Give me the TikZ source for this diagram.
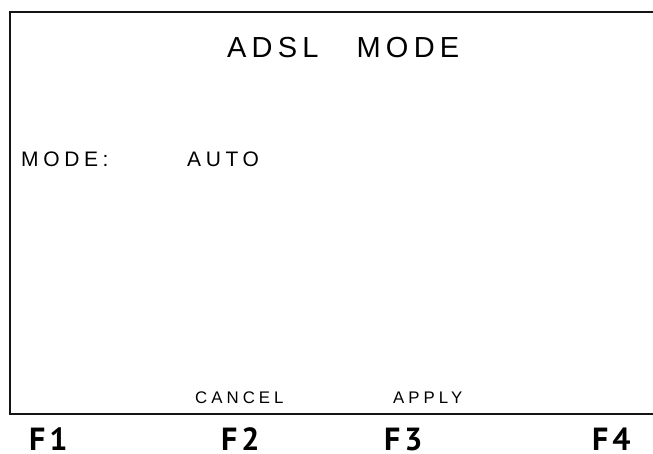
\documentclass[tikz,border=0pt]{standalone}
\usepackage{fontspec}
\setmainfont{Liberation Sans}
\newfontfamily\fkeyfont{PT Sans Bold}[LetterSpace=12]
\newfontfamily\lstitle{Liberation Sans}[LetterSpace=18]
\newfontfamily\lsfont{Liberation Sans}[LetterSpace=22]
\newfontfamily\lsfontb{Liberation Sans}[LetterSpace=24]
\begin{document}
\begin{tikzpicture}[x=1pt,y=-1pt,
  frame/.style={line width=2pt,draw=black!92},
  titletext/.style={anchor=base west,inner sep=0pt,font=\fontsize{29}{29}\lstitle},
  fieldtext/.style={anchor=base west,inner sep=0pt,font=\fontsize{21}{21}\lsfont},
  softkey/.style={anchor=base west,inner sep=0pt,font=\fontsize{16.8}{16.8}\lsfontb},
  fkey/.style={anchor=base west,inner sep=0pt,font=\fontsize{32}{32}\fkeyfont}]
\useasboundingbox (0,0) rectangle (653,454);
\coordinate (tr) at (653,12);
\coordinate (tl) at (10,12);
\coordinate (bl) at (10,414);
\coordinate (br) at (653,414);
\draw[frame] (tr) -- (tl) -- (bl) -- (br);
\node[titletext] (title) at (227,58) {ADSL\hspace{38pt}MODE};
\node[fieldtext] (modelabel) at (21,167) {MODE:};
\node[fieldtext] (modevalue) at (187,167) {AUTO};
\node[softkey] (cancel) at (195,403) {CANCEL};
\node[softkey] (apply) at (393,403) {APPLY};
\node[fkey] (f1) at (29,450) {F1};
\node[fkey] (f2) at (221,450) {F2};
\node[fkey] (f3) at (384,450) {F3};
\node[fkey] (f4) at (592,450) {F4};
\end{tikzpicture}
\end{document}
